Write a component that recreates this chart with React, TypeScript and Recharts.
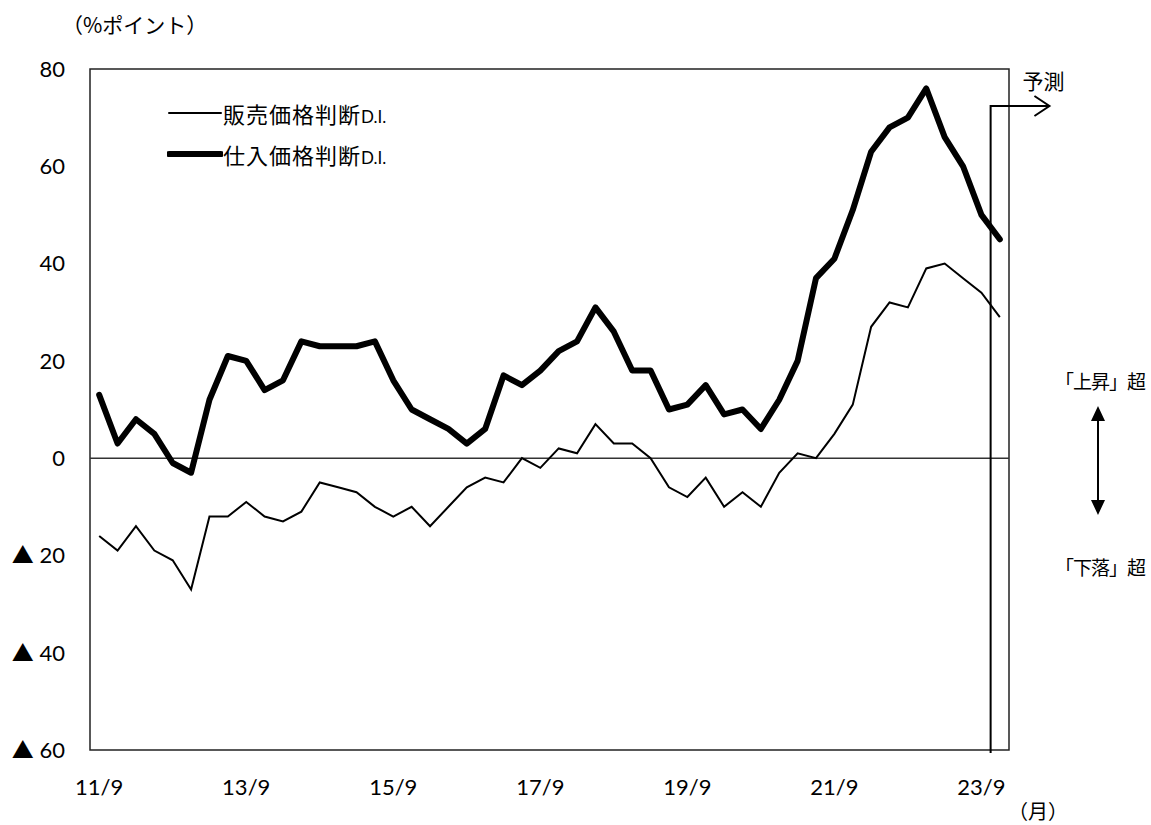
import {
  Legend,
  Line,
  LineChart,
  ReferenceArea,
  ReferenceLine,
  XAxis,
  YAxis,
} from "recharts";

// quarterly survey points, 11/9 .. 23/12 (last one is the forecast)
const categories: string[] = [];
for (let y = 11; y <= 23; y++) {
  for (const m of [3, 6, 9, 12]) {
    if (y === 11 && m < 9) continue;
    categories.push(`${y}/${m}`);
  }
}

const tickLabels = ["11/9", "13/9", "15/9", "17/9", "19/9", "21/9", "23/9"];
const yTicks = [-60, -40, -20, 0, 20, 40, 60, 80];

// 販売価格判断D.I.
const salesDI = [
  -16, -19, -14, -19, -21, -27, -12, -12, -9, -12,
  -13, -11, -5, -6, -7, -10, -12, -10, -14, -10,
  -6, -4, -5, 0, -2, 2, 1, 7, 3, 3,
  0, -6, -8, -4, -10, -7, -10, -3, 1, 0,
  5, 11, 27, 32, 31, 39, 40, 37, 34, 29,
];

// 仕入価格判断D.I.
const purchaseDI = [
  13, 3, 8, 5, -1, -3, 12, 21, 20, 14,
  16, 24, 23, 23, 23, 24, 16, 10, 8, 6,
  3, 6, 17, 15, 18, 22, 24, 31, 26, 18,
  18, 10, 11, 15, 9, 10, 6, 12, 20, 37,
  41, 51, 63, 68, 70, 76, 66, 60, 50, 45,
];

const data = categories.map((label, idx) => ({
  idx,
  label,
  sales: salesDI[idx],
  purchase: purchaseDI[idx],
}));

const xTicks = tickLabels.map((l) => categories.indexOf(l));
const forecastStart = categories.length - 1.5;

const FONT = "Lato, 'Noto Sans CJK JP', sans-serif";
const JP = "'Noto Sans CJK JP', sans-serif";

const ForecastMark = (props: any) => {
  const { x1, y1, x2, y2 } = props;
  return (
    <g>
      <path
        d={`M${x1},${y1 + 3} V${y2} H${x2}`}
        stroke="#000"
        strokeWidth={2}
        fill="none"
      />
      <path
        d={`M${x2 - 15},${y2 - 10} L${x2},${y2} L${x2 - 15},${y2 + 10}`}
        stroke="#000"
        strokeWidth={2}
        fill="none"
      />
      <text
        x={x2 - 6}
        y={y2 - 26}
        textAnchor="middle"
        dominantBaseline="central"
        fontSize={21}
        fontFamily={JP}
        fill="#000"
      >
        予測
      </text>
    </g>
  );
};

const LegendBox = () => (
  <div style={{ fontFamily: JP, fontSize: 22, color: "#000", letterSpacing: 1 }}>
    {[
      { name: "販売価格判断", w: 2 },
      { name: "仕入価格判断", w: 6 },
    ].map((r) => (
      <div key={r.name} style={{ display: "flex", alignItems: "center", height: 41 }}>
        <svg width={56} height={10}>
          <line x1={2} y1={5} x2={54} y2={5} stroke="#000" strokeWidth={r.w} strokeLinecap="round" />
        </svg>
        <span>
          {r.name}
          <span style={{ fontSize: 17, fontFamily: "Lato, sans-serif", letterSpacing: 0 }}>
            D.I.
          </span>
        </span>
      </div>
    ))}
  </div>
);

export default function App() {
  return (
    <div
      style={{
        position: "absolute",
        left: 0,
        top: 0,
        width: 1151,
        height: 825,
        background: "#fff",
        fontFamily: FONT,
      }}
    >
      <LineChart
        width={1151}
        height={825}
        data={data}
        margin={{ top: 69, right: 142, bottom: 0, left: 0 }}
      >
        <XAxis
          dataKey="idx"
          type="number"
          domain={[-0.5, categories.length - 0.5]}
          ticks={xTicks}
          tickFormatter={(i: number) => categories[i]}
          height={75}
          axisLine={false}
          tickLine={false}
          tickMargin={23}
          tick={{ fill: "#000", fontSize: 22 }}
        />
        <YAxis
          domain={[-60, 80]}
          ticks={yTicks}
          tickFormatter={(v: number) => (v < 0 ? `▲ ${-v}` : `${v}`)}
          width={90}
          axisLine={false}
          tickLine={false}
          tickMargin={19}
          tick={{ fill: "#000", fontSize: 22 }}
        />
        <ReferenceArea
          x1={-0.5}
          x2={categories.length - 0.5}
          y1={-60}
          y2={80}
          fill="none"
          stroke="#222"
          strokeWidth={1.5}
          ifOverflow="visible"
        />
        <ReferenceLine y={0} stroke="#333" strokeWidth={1.5} />
        <ReferenceLine
          segment={[
            { x: forecastStart, y: -60 },
            { x: 51.7, y: 72.4 },
          ]}
          ifOverflow="visible"
          shape={ForecastMark}
        />
        <Legend
          layout="horizontal"
          verticalAlign="middle"
          align="center"
          wrapperStyle={{ top: 92, left: 167, width: 280 }}
          content={() => <LegendBox />}
        />
        <Line
          dataKey="sales"
          stroke="#000"
          strokeWidth={2}
          dot={false}
          isAnimationActive={false}
        />
        <Line
          dataKey="purchase"
          stroke="#000"
          strokeWidth={6}
          strokeLinejoin="round"
          strokeLinecap="round"
          dot={false}
          isAnimationActive={false}
        />
      </LineChart>

      <div style={{ position: "absolute", left: 62, top: 9, fontFamily: JP, fontSize: 21 }}>
        （%ポイント）
      </div>
      <div style={{ position: "absolute", left: 1008, top: 796, fontFamily: JP, fontSize: 20 }}>
        （月）
      </div>
      <div
        style={{
          position: "absolute",
          left: 1050,
          width: 100,
          top: 367,
          textAlign: "center",
          fontFamily: JP,
          fontSize: 19,
          letterSpacing: -1,
        }}
      >
        「上昇」超
      </div>
      <div
        style={{
          position: "absolute",
          left: 1050,
          width: 100,
          top: 553,
          textAlign: "center",
          fontFamily: JP,
          fontSize: 19,
          letterSpacing: -1,
        }}
      >
        「下落」超
      </div>
      <svg style={{ position: "absolute", left: 1088, top: 404 }} width={20} height={114}>
        <line x1={10} y1={12} x2={10} y2={100} stroke="#000" strokeWidth={2} />
        <polygon points="10,2 3,17 17,17" fill="#000" />
        <polygon points="10,111 3,96 17,96" fill="#000" />
      </svg>
    </div>
  );
}
